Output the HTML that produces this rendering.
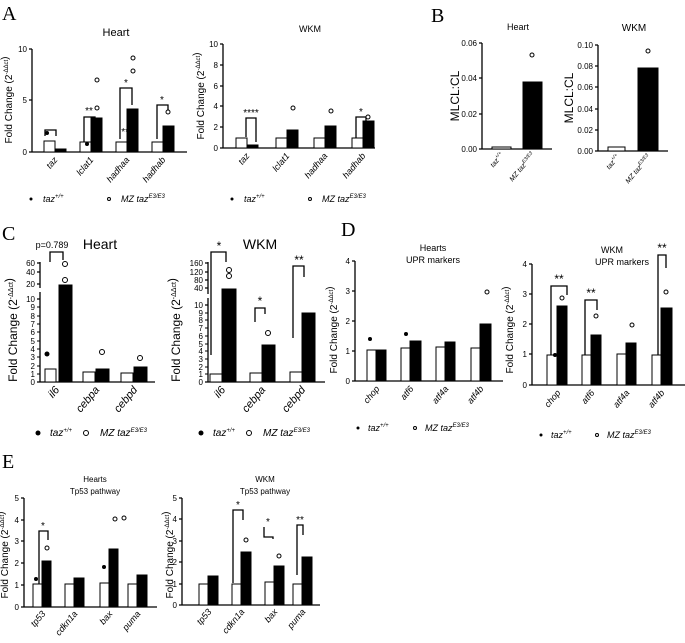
<!DOCTYPE html>
<html><head><meta charset="utf-8"><style>
html,body{margin:0;padding:0;background:#fff}
svg{display:block;font-family:"Liberation Sans",sans-serif}
.t{font-size:8px}
.g{font-size:9px;font-style:italic}
.yl{font-size:10px}
.L{font-family:"Liberation Serif",serif;font-size:20px}
</style></head><body>
<svg width="685" height="643" viewBox="0 0 685 643" xmlns="http://www.w3.org/2000/svg">
<g stroke="#000" stroke-width="1.3" fill="none">
<path d="M32 49V152H187M29 49H32M29 100H32M29 152H32"/>
<path d="M223 44V148H375M220 44H223M220 65H223M220 86H223M220 106H223M220 127H223M220 148H223"/>
<path d="M482 43V149H552M479 43H482M479 78H482M479 114H482M479 149H482"/>
<path d="M598 45V151H668M595 45H598M595 66H598M595 87H598M595 109H598M595 130H598M595 151H598"/>
<path d="M40 262V288M40 292V382H155M37 263H40M37 272H40M37 284H40M37 299H40M37 382H40"/>
<path d="M208 262V294M208 298V382H325M205 263H208M205 272H208M205 280H208M205 288H208M205 305H208M205 382H208"/>
<path d="M355 261V381H503M352 261H355M352 291H355M352 321H355M352 351H355M352 381H355"/>
<path d="M532 264V385H685M529 264H532M529 294H532M529 324H532M529 354H532M529 385H532"/>
<path d="M24 498V607H157M21 498H24M21 520H24M21 541H24M21 563H24M21 585H24M21 607H24"/>
<path d="M182 498V605H320M179 498H182M179 519H182M179 541H182M179 562H182M179 584H182M179 605H182"/>
<path d="M45 136V130H56V136M84 148V117H95V125M120 139V88H132V105M157 139V105H168V112"/>
<path d="M246 137V118H256V142M356 138V117H366V122"/>
<path d="M50 262V252H63V260M211 355V252H226V262M255 322V308H265V314M293 338V266H304V277"/>
<path d="M551 375V286H567V295M585 365V300H597V310M658 370V255H666V268"/>
<path d="M39 587V531H48V540M233 583V510H243V520M264 527V537H273V539M297 575V525H303V535"/>
</g>
<g stroke="#000" stroke-width="1">
<path d="M37 307H40M37 316H40M37 324H40M37 332H40M37 341H40M37 349H40M37 357H40M37 366H40M37 374H40"/>
<path d="M205 313H208M205 320H208M205 328H208M205 336H208M205 344H208M205 351H208M205 359H208M205 367H208M205 374H208"/>
</g>
<g fill="#000" font-size="10">
<text x="129" y="135" text-anchor="middle">****</text><text x="89" y="114" text-anchor="middle">**</text><text x="126" y="86" text-anchor="middle">*</text><text x="162" y="103" text-anchor="middle">*</text>
<text x="251" y="116" text-anchor="middle">****</text><text x="361" y="115" text-anchor="middle">*</text>
<text x="219" y="250" text-anchor="middle" font-size="12">*</text><text x="260" y="305" text-anchor="middle" font-size="12">*</text><text x="299" y="264" text-anchor="middle" font-size="12">**</text>
<text x="559" y="283" text-anchor="middle" font-size="12">**</text><text x="591" y="297" text-anchor="middle" font-size="12">**</text><text x="662" y="252" text-anchor="middle" font-size="12">**</text>
<text x="43" y="529" text-anchor="middle">*</text><text x="238" y="508" text-anchor="middle">*</text><text x="268" y="525" text-anchor="middle">*</text><text x="300" y="523" text-anchor="middle">**</text>
</g>
<g stroke="#000" stroke-width="1">
<rect x="44" y="141" width="11" height="11" fill="#fff"/><rect x="55" y="149" width="11" height="3" fill="#000"/>
<rect x="80" y="142" width="11" height="10" fill="#fff"/><rect x="91" y="118" width="11" height="34" fill="#000"/>
<rect x="116" y="142" width="11" height="10" fill="#fff"/><rect x="127" y="109" width="11" height="43" fill="#000"/>
<rect x="152" y="142" width="11" height="10" fill="#fff"/><rect x="163" y="126" width="11" height="26" fill="#000"/>
<rect x="236" y="138" width="11" height="10" fill="#fff"/><rect x="247" y="145" width="11" height="3" fill="#000"/>
<rect x="276" y="138" width="11" height="10" fill="#fff"/><rect x="287" y="130" width="11" height="18" fill="#000"/>
<rect x="314" y="138" width="11" height="10" fill="#fff"/><rect x="325" y="126" width="11" height="22" fill="#000"/>
<rect x="352" y="138" width="11" height="10" fill="#fff"/><rect x="363" y="121" width="11" height="27" fill="#000"/>
<rect x="492" y="147" width="19" height="2" fill="#fff"/><rect x="523" y="82" width="19" height="67" fill="#000"/>
<rect x="608" y="147" width="17" height="4" fill="#fff"/><rect x="638" y="68" width="20" height="83" fill="#000"/>
<rect x="45" y="369" width="11" height="13" fill="#fff"/><rect x="59" y="285" width="13" height="97" fill="#000"/>
<rect x="83" y="372" width="12" height="10" fill="#fff"/><rect x="96" y="369" width="13" height="13" fill="#000"/>
<rect x="121" y="373" width="12" height="9" fill="#fff"/><rect x="134" y="367" width="13" height="15" fill="#000"/>
<rect x="210" y="374" width="12" height="8" fill="#fff"/><rect x="222" y="289" width="14" height="93" fill="#000"/>
<rect x="250" y="373" width="12" height="9" fill="#fff"/><rect x="262" y="345" width="13" height="37" fill="#000"/>
<rect x="290" y="372" width="12" height="10" fill="#fff"/><rect x="302" y="313" width="13" height="69" fill="#000"/>
<rect x="367" y="350" width="9" height="31" fill="#fff"/><rect x="376" y="350" width="10" height="31" fill="#000"/>
<rect x="401" y="348" width="9" height="33" fill="#fff"/><rect x="410" y="341" width="11" height="40" fill="#000"/>
<rect x="436" y="347" width="9" height="34" fill="#fff"/><rect x="445" y="342" width="10" height="39" fill="#000"/>
<rect x="471" y="348" width="9" height="33" fill="#fff"/><rect x="480" y="324" width="11" height="57" fill="#000"/>
<rect x="547" y="355" width="10" height="30" fill="#fff"/><rect x="557" y="306" width="10" height="79" fill="#000"/>
<rect x="582" y="355" width="9" height="30" fill="#fff"/><rect x="591" y="335" width="10" height="50" fill="#000"/>
<rect x="617" y="354" width="9" height="31" fill="#fff"/><rect x="626" y="343" width="10" height="42" fill="#000"/>
<rect x="652" y="355" width="9" height="30" fill="#fff"/><rect x="661" y="308" width="11" height="77" fill="#000"/>
<rect x="33" y="584" width="9" height="23" fill="#fff"/><rect x="42" y="561" width="9" height="46" fill="#000"/>
<rect x="65" y="584" width="9" height="23" fill="#fff"/><rect x="74" y="578" width="10" height="29" fill="#000"/>
<rect x="100" y="583" width="9" height="24" fill="#fff"/><rect x="109" y="549" width="9" height="58" fill="#000"/>
<rect x="128" y="584" width="9" height="23" fill="#fff"/><rect x="137" y="575" width="10" height="32" fill="#000"/>
<rect x="199" y="584" width="9" height="21" fill="#fff"/><rect x="208" y="576" width="10" height="29" fill="#000"/>
<rect x="232" y="584" width="9" height="21" fill="#fff"/><rect x="241" y="552" width="10" height="53" fill="#000"/>
<rect x="265" y="582" width="9" height="23" fill="#fff"/><rect x="274" y="566" width="10" height="39" fill="#000"/>
<rect x="293" y="584" width="9" height="21" fill="#fff"/><rect x="302" y="557" width="10" height="48" fill="#000"/>
</g>
<g fill="#fff" stroke="#000" stroke-width="1">
<circle cx="133" cy="58" r="2"/><circle cx="133" cy="71" r="2"/><circle cx="97" cy="80" r="2"/><circle cx="168" cy="112" r="2"/><circle cx="97" cy="108" r="2"/>
<circle cx="293" cy="108" r="2"/><circle cx="331" cy="111" r="2"/><circle cx="368" cy="117" r="2"/>
<circle cx="532" cy="55" r="2"/><circle cx="648" cy="51" r="2"/>
<circle cx="65" cy="264" r="2.5"/><circle cx="65" cy="280" r="2.5"/><circle cx="102" cy="352" r="2.5"/><circle cx="140" cy="358" r="2.5"/>
<circle cx="229" cy="270" r="2.5"/><circle cx="229" cy="276" r="2.5"/><circle cx="268" cy="333" r="2.5"/>
<circle cx="562" cy="298" r="2"/><circle cx="596" cy="316" r="2"/><circle cx="632" cy="325" r="2"/><circle cx="666" cy="292" r="2"/><circle cx="487" cy="292" r="2"/>
<circle cx="115" cy="519" r="2"/><circle cx="124" cy="518" r="2"/><circle cx="47" cy="548" r="2"/><circle cx="246" cy="540" r="2"/><circle cx="279" cy="556" r="2"/>
</g>
<g fill="#000">
<circle cx="47" cy="133" r="2"/><circle cx="87" cy="144" r="2"/><circle cx="47" cy="354" r="2.5"/><circle cx="555" cy="355" r="2"/><circle cx="370" cy="339" r="2"/><circle cx="406" cy="334" r="2"/><circle cx="36" cy="579" r="2"/><circle cx="104" cy="567" r="2"/>
</g>
<g class="L" fill="#000">
<text x="2" y="20">A</text><text x="431" y="22">B</text><text x="2" y="240">C</text><text x="341" y="236">D</text><text x="2" y="468">E</text>
</g>
<g fill="#000" text-anchor="middle">
<text x="116" y="36" font-size="11">Heart</text><text x="310" y="32" font-size="9">WKM</text>
<text x="518" y="30" font-size="9">Heart</text><text x="634" y="31" font-size="10">WKM</text>
<text x="52" y="248" font-size="9">p=0.789</text><text x="100" y="249" font-size="14">Heart</text><text x="260" y="249" font-size="14">WKM</text>
<text x="433" y="251" font-size="9">Hearts</text><text x="433" y="263" font-size="9">UPR markers</text>
<text x="612" y="253" font-size="9">WKM</text><text x="622" y="265" font-size="9">UPR markers</text>
<text x="95" y="482" font-size="8">Hearts</text><text x="95" y="494" font-size="8">Tp53 pathway</text>
<text x="265" y="482" font-size="8">WKM</text><text x="265" y="494" font-size="8">Tp53 pathway</text>
</g>
<g class="t" fill="#000" text-anchor="end">
<text x="27" y="52">10</text><text x="27" y="103">5</text><text x="27" y="155">0</text>
<text x="218" y="47">10</text><text x="218" y="68">8</text><text x="218" y="89">6</text><text x="218" y="109">4</text><text x="218" y="130">2</text><text x="218" y="151">0</text>
<text x="477" y="46">0.06</text><text x="477" y="81">0.04</text><text x="477" y="117">0.02</text><text x="477" y="152">0.00</text>
<text x="593" y="48">0.10</text><text x="593" y="69">0.08</text><text x="593" y="90">0.06</text><text x="593" y="112">0.04</text><text x="593" y="133">0.02</text><text x="593" y="154">0.00</text>
<text x="35" y="266">60</text><text x="35" y="275">40</text><text x="35" y="287">20</text><text x="35" y="302">10</text>
<text x="35" y="310">9</text><text x="35" y="319">8</text><text x="35" y="327">7</text><text x="35" y="335">6</text><text x="35" y="344">5</text><text x="35" y="352">4</text><text x="35" y="360">3</text><text x="35" y="369">2</text><text x="35" y="377">1</text><text x="35" y="385">0</text>
<text x="203" y="266">160</text><text x="203" y="275">120</text><text x="203" y="283">80</text><text x="203" y="291">40</text><text x="203" y="308">10</text>
<text x="203" y="316">9</text><text x="203" y="323">8</text><text x="203" y="331">7</text><text x="203" y="339">6</text><text x="203" y="347">5</text><text x="203" y="354">4</text><text x="203" y="362">3</text><text x="203" y="370">2</text><text x="203" y="377">1</text><text x="203" y="385">0</text>
<text x="350" y="264">4</text><text x="350" y="294">3</text><text x="350" y="324">2</text><text x="350" y="354">1</text><text x="350" y="384">0</text>
<text x="527" y="267">4</text><text x="527" y="297">3</text><text x="527" y="327">2</text><text x="527" y="357">1</text><text x="527" y="388">0</text>
<text x="19" y="501">5</text><text x="19" y="523">4</text><text x="19" y="544">3</text><text x="19" y="566">2</text><text x="19" y="588">1</text><text x="19" y="610">0</text>
<text x="177" y="501">5</text><text x="177" y="522">4</text><text x="177" y="544">3</text><text x="177" y="565">2</text><text x="177" y="587">1</text><text x="177" y="608">0</text>
</g>
<g class="yl" fill="#000" text-anchor="middle">
<text transform="translate(12,100) rotate(-90)">Fold Change (2<tspan font-size="6" dy="-4">-ΔΔct</tspan>)</text>
<text transform="translate(204,96) rotate(-90)">Fold Change (2<tspan font-size="6" dy="-4">-ΔΔct</tspan>)</text>
<text transform="translate(459,96) rotate(-90)" font-size="12">MLCL:CL</text>
<text transform="translate(573,98) rotate(-90)" font-size="12">MLCL:CL</text>
<text transform="translate(17,330) rotate(-90)" font-size="12">Fold Change (2<tspan font-size="7" dy="-4">-ΔΔct</tspan>)</text>
<text transform="translate(180,330) rotate(-90)" font-size="12">Fold Change (2<tspan font-size="7" dy="-4">-ΔΔct</tspan>)</text>
<text transform="translate(337,330) rotate(-90)">Fold Change (2<tspan font-size="6" dy="-4">-ΔΔct</tspan>)</text>
<text transform="translate(513,330) rotate(-90)">Fold Change (2<tspan font-size="6" dy="-4">-ΔΔct</tspan>)</text>
<text transform="translate(8,555) rotate(-90)">Fold Change (2<tspan font-size="6" dy="-4">-ΔΔct</tspan>)</text>
<text transform="translate(173,555) rotate(-90)">Fold Change (2<tspan font-size="6" dy="-4">-ΔΔct</tspan>)</text>
</g>
<g class="g" fill="#000" text-anchor="end">
<text transform="translate(58,160) rotate(-50)">taz</text><text transform="translate(94,160) rotate(-50)">lclat1</text><text transform="translate(130,160) rotate(-50)">hadhaa</text><text transform="translate(166,160) rotate(-50)">hadhab</text>
<text transform="translate(250,156) rotate(-50)">taz</text><text transform="translate(290,156) rotate(-50)">lclat1</text><text transform="translate(328,156) rotate(-50)">hadhaa</text><text transform="translate(366,156) rotate(-50)">hadhab</text>
<text transform="translate(504,155) rotate(-50)" font-size="7">taz<tspan font-size="5" dy="-3">+/+</tspan></text><text transform="translate(535,155) rotate(-50)" font-size="7">MZ taz<tspan font-size="5" dy="-3">E3/E3</tspan></text>
<text transform="translate(620,157) rotate(-50)" font-size="7">taz<tspan font-size="5" dy="-3">+/+</tspan></text><text transform="translate(651,157) rotate(-50)" font-size="7">MZ taz<tspan font-size="5" dy="-3">E3/E3</tspan></text>
<text transform="translate(60,390) rotate(-50)" font-size="11">il6</text><text transform="translate(100,390) rotate(-50)" font-size="11">cebpa</text><text transform="translate(138,390) rotate(-50)" font-size="11">cebpd</text>
<text transform="translate(226,390) rotate(-50)" font-size="11">il6</text><text transform="translate(266,390) rotate(-50)" font-size="11">cebpa</text><text transform="translate(306,390) rotate(-50)" font-size="11">cebpd</text>
<text transform="translate(380,389) rotate(-50)">chop</text><text transform="translate(414,389) rotate(-50)">atf6</text><text transform="translate(449,389) rotate(-50)">atf4a</text><text transform="translate(484,389) rotate(-50)">atf4b</text>
<text transform="translate(561,393) rotate(-50)">chop</text><text transform="translate(595,393) rotate(-50)">atf6</text><text transform="translate(630,393) rotate(-50)">atf4a</text><text transform="translate(665,393) rotate(-50)">atf4b</text>
<text transform="translate(46,614) rotate(-50)">tp53</text><text transform="translate(78,614) rotate(-50)">cdkn1a</text><text transform="translate(113,614) rotate(-50)">bax</text><text transform="translate(141,614) rotate(-50)">puma</text>
<text transform="translate(212,612) rotate(-50)">tp53</text><text transform="translate(245,612) rotate(-50)">cdkn1a</text><text transform="translate(278,612) rotate(-50)">bax</text><text transform="translate(306,612) rotate(-50)">puma</text>
</g>
<g fill="#000" font-size="9" font-style="italic">
<circle cx="31" cy="199" r="1.5"/><text x="43" y="202">taz<tspan font-size="6" dy="-4">+/+</tspan></text>
<circle cx="109" cy="199" r="1.5" fill="#fff" stroke="#000"/><text x="121" y="202">MZ taz<tspan font-size="6" dy="-4">E3/E3</tspan></text>
<circle cx="232" cy="199" r="1.5"/><text x="244" y="202">taz<tspan font-size="6" dy="-4">+/+</tspan></text>
<circle cx="310" cy="199" r="1.5" fill="#fff" stroke="#000"/><text x="322" y="202">MZ taz<tspan font-size="6" dy="-4">E3/E3</tspan></text>
<circle cx="38" cy="433" r="2.5"/><text x="50" y="436" font-size="10">taz<tspan font-size="6" dy="-4">+/+</tspan></text>
<circle cx="86" cy="433" r="2.5" fill="#fff" stroke="#000"/><text x="100" y="436" font-size="10">MZ taz<tspan font-size="6" dy="-4">E3/E3</tspan></text>
<circle cx="201" cy="433" r="2.5"/><text x="213" y="436" font-size="10">taz<tspan font-size="6" dy="-4">+/+</tspan></text>
<circle cx="249" cy="433" r="2.5" fill="#fff" stroke="#000"/><text x="263" y="436" font-size="10">MZ taz<tspan font-size="6" dy="-4">E3/E3</tspan></text>
<circle cx="358" cy="428" r="1.5"/><text x="368" y="431">taz<tspan font-size="6" dy="-4">+/+</tspan></text>
<circle cx="415" cy="428" r="1.5" fill="#fff" stroke="#000"/><text x="425" y="431">MZ taz<tspan font-size="6" dy="-4">E3/E3</tspan></text>
<circle cx="541" cy="435" r="1.5"/><text x="551" y="438">taz<tspan font-size="6" dy="-4">+/+</tspan></text>
<circle cx="597" cy="435" r="1.5" fill="#fff" stroke="#000"/><text x="607" y="438">MZ taz<tspan font-size="6" dy="-4">E3/E3</tspan></text>
</g>
</svg>
</body></html>
